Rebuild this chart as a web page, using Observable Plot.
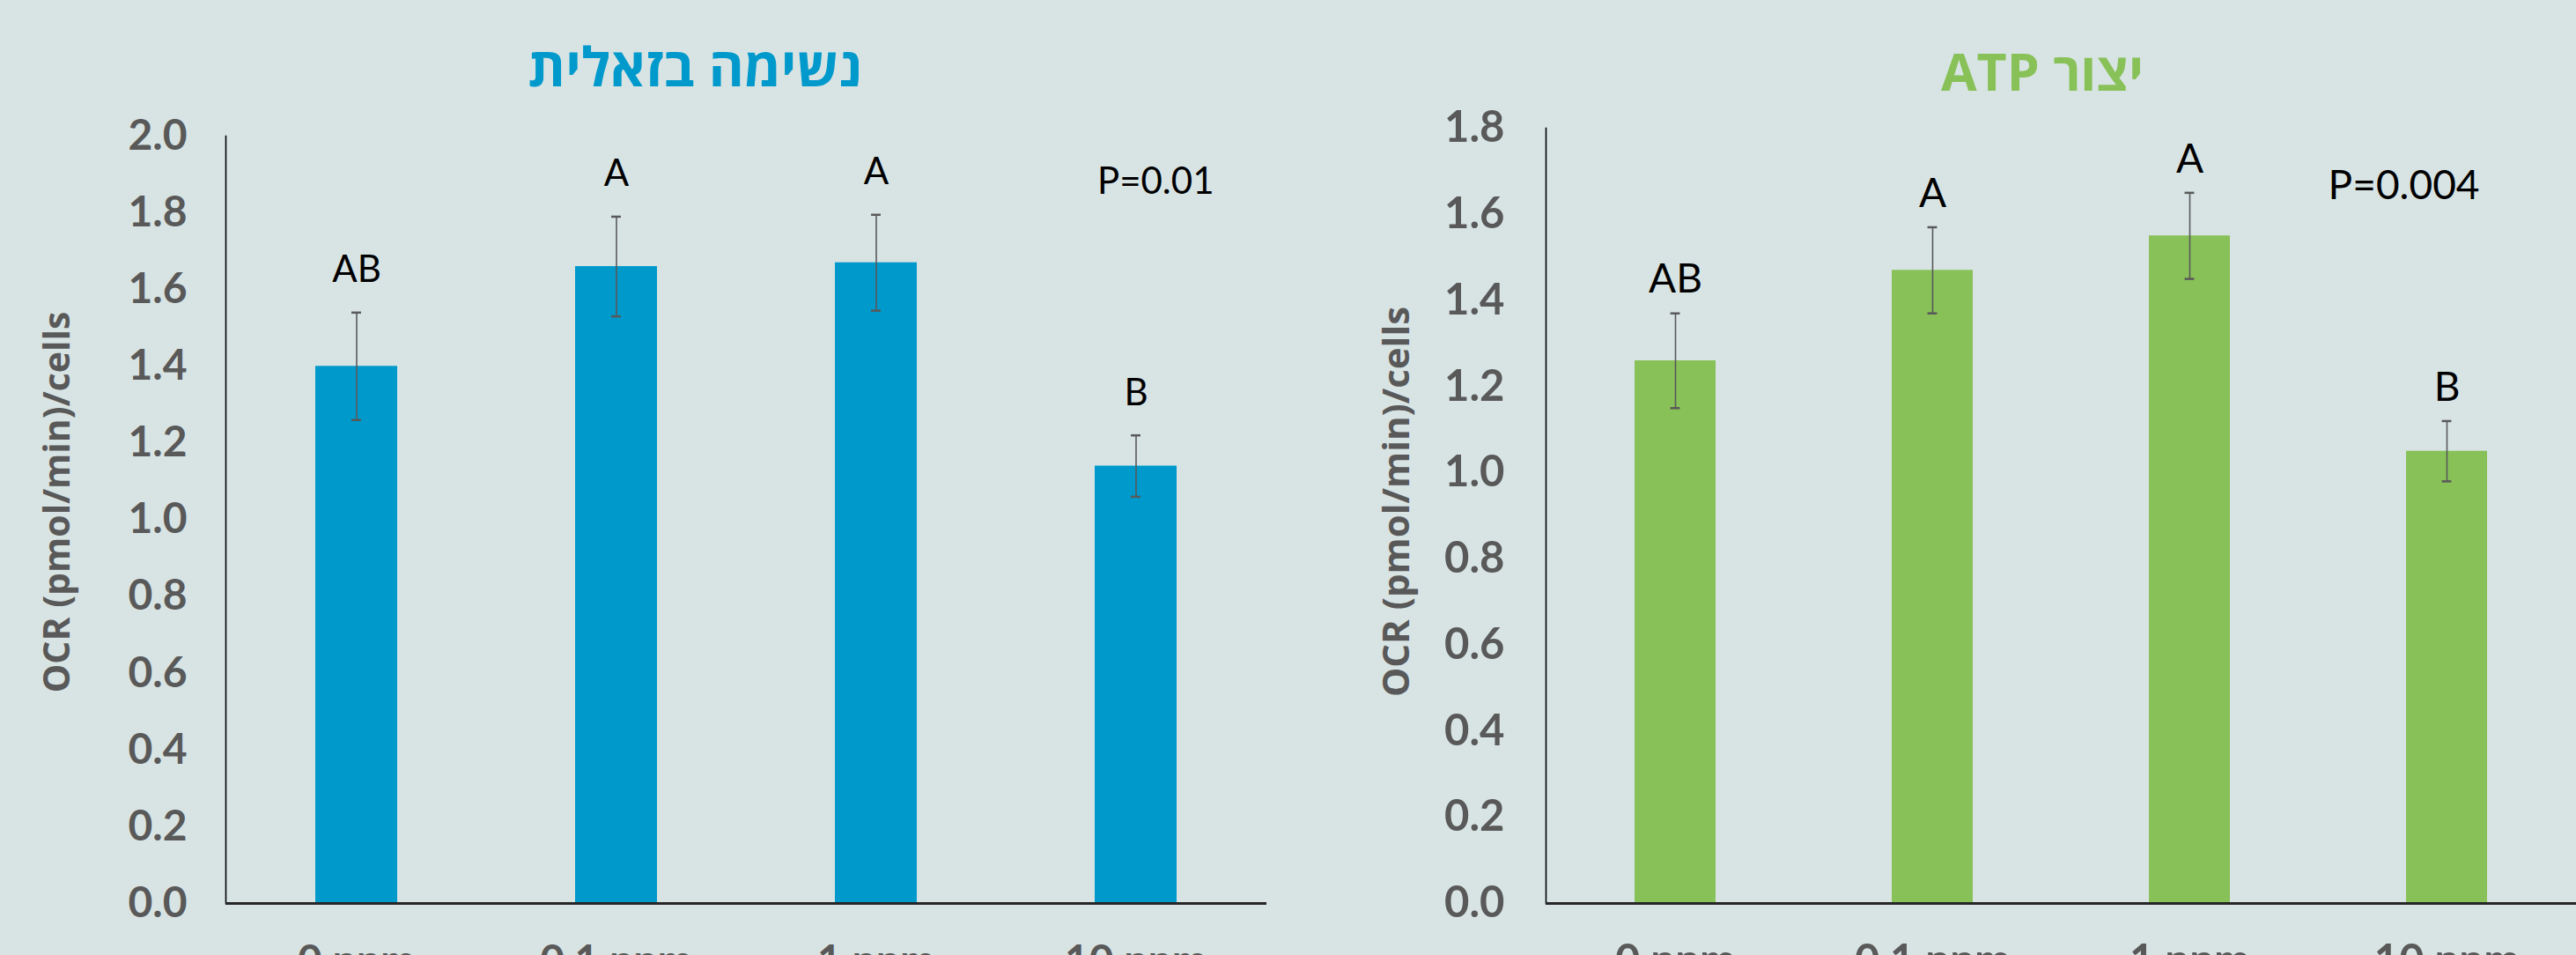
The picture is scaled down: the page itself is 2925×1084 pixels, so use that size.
<!DOCTYPE html>
<html>
<head>
<meta charset="utf-8">
<script src="https://cdn.jsdelivr.net/npm/d3@7"></script>
<script src="https://cdn.jsdelivr.net/npm/@observablehq/plot@0.6"></script>
<style>
  html, body { margin: 0; padding: 0; background: #D8E4E4; }
  #wrap { position: relative; width: 2925px; height: 1084px; overflow: hidden; background: #D8E4E4; }
  .chart { position: absolute; top: 0; }
  .title { position: absolute; transform: translate(-50%, -50%); white-space: nowrap;
           font-family: "Open Sans", "Liberation Sans", "DejaVu Sans", sans-serif; font-weight: bold; }
</style>
</head>
<body>
<div id="wrap"></div>
<script>
// ---- data ----
const categories = ["0 ppm", "0.1 ppm", "1 ppm", "10 ppm"];

const basalTitle = "נשימה בזאלית";
const basalValues = [1.40, 1.66, 1.67, 1.14];
const basalErrors = [0.14, 0.13, 0.125, 0.08];
const basalLetters = ["AB", "A", "A", "B"];
const basalP = "P=0.01";
const basalTicks = [0, 0.2, 0.4, 0.6, 0.8, 1.0, 1.2, 1.4, 1.6, 1.8, 2.0];

const atpTitle = "יצור ATP";
const atpValues = [1.26, 1.47, 1.55, 1.05];
const atpErrors = [0.11, 0.10, 0.10, 0.07];
const atpLetters = ["AB", "A", "A", "B"];
const atpP = "P=0.004";
const atpTicks = [0, 0.2, 0.4, 0.6, 0.8, 1.0, 1.2, 1.4, 1.6, 1.8];

const yLabel = "OCR (pmol/min)/cells";

const BLUE = "#0099CC";
const GREEN = "#88C158";
const GREY = "#595959";
const FONT = "Lato, 'Open Sans', 'Liberation Sans', sans-serif";

function rows(values, errors, letters) {
  return categories.map((c, i) => ({cat: c, value: values[i], err: errors[i], letter: letters[i]}));
}

function chart(cfg) {
  const data = rows(cfg.values, cfg.errors, cfg.letters);
  const frameW = cfg.width - cfg.marginLeft - cfg.marginRight;
  const bw = frameW / categories.length * 0.315;
  const capInset = (bw - 11) / 2;
  return Plot.plot({
    width: cfg.width,
    height: 1150,
    marginLeft: cfg.marginLeft,
    marginRight: cfg.marginRight,
    marginTop: cfg.marginTop,
    marginBottom: 125,
    style: {background: "transparent", color: GREY, fontFamily: FONT, overflow: "visible"},
    x: {domain: categories, paddingInner: 0.685, paddingOuter: 0.3425, label: null},
    y: {domain: cfg.domain, label: null},
    marks: [
      Plot.barY(data, {x: "cat", y: "value", fill: cfg.color}),
      Plot.ruleX(data, {x: "cat", y1: d => d.value - d.err, y2: d => d.value + d.err, stroke: GREY, strokeWidth: 1.6}),
      Plot.tickY(data, {x: "cat", y: d => d.value + d.err, stroke: GREY, strokeWidth: 2.5, insetLeft: capInset, insetRight: capInset}),
      Plot.tickY(data, {x: "cat", y: d => d.value - d.err, stroke: GREY, strokeWidth: 2.5, insetLeft: capInset, insetRight: capInset}),
      Plot.axisY({ticks: cfg.ticks, tickFormat: d3.format(".1f"), tickSize: 0, tickPadding: cfg.tickPad,
                  fontSize: cfg.tickFont, fontWeight: "bold", fill: GREY, label: null}),
      Plot.axisX({tickSize: 0, tickPadding: 47, fontSize: cfg.tickFont, fontWeight: "bold", fill: GREY, label: null}),
      Plot.frame({anchor: "left", stroke: "black", strokeWidth: 1.6}),
      Plot.ruleY([0], {stroke: "#262626", strokeWidth: 3}),
      Plot.text(data, {x: "cat", y: d => d.value + d.err, text: "letter", dy: cfg.letterDy,
                       fontSize: cfg.textFont, fill: "black", fontFamily: FONT}),
      Plot.text([cfg.p], {frameAnchor: "top-right", textAnchor: "end", dx: cfg.pDx, dy: cfg.pDy,
                          fontSize: cfg.textFont, fill: "black", fontFamily: FONT}),
      Plot.text([yLabel], {frameAnchor: "left", textAnchor: "middle", lineAnchor: "middle", rotate: -90,
                           dx: cfg.labelDx, dy: cfg.labelDy,
                           fontSize: cfg.labelFont, fontWeight: "bold", fill: GREY, letterSpacing: "2px",
                           fontFamily: "'Open Sans', Lato, sans-serif"})
    ]
  });
}

const wrap = document.getElementById("wrap");

const left = chart({
  values: basalValues, errors: basalErrors, letters: basalLetters, p: basalP, ticks: basalTicks,
  domain: [0, 2.0], color: BLUE, width: 1460, marginLeft: 256, marginRight: 22, marginTop: 154,
  tickPad: 44, tickFont: 48, textFont: 42, labelFont: 41,
  letterDy: -48, pDx: -60, pDy: 36, labelDx: -191, labelDy: -20
});
left.classList.add("chart");
left.style.left = "0px";
wrap.appendChild(left);

const right = chart({
  values: atpValues, errors: atpErrors, letters: atpLetters, p: atpP, ticks: atpTicks,
  domain: [0, 1.8], color: GREEN, width: 1465, marginLeft: 295, marginRight: 0, marginTop: 145,
  tickPad: 47, tickFont: 49, textFont: 46, labelFont: 42,
  letterDy: -38, pDx: -110, pDy: 48, labelDx: -169, labelDy: -16
});
right.classList.add("chart");
right.style.left = "1460px";
wrap.appendChild(right);

function addTitle(text, x, y, color, size) {
  const d = document.createElement("div");
  d.className = "title";
  d.dir = "rtl";
  d.textContent = text;
  d.style.left = x + "px";
  d.style.top = y + "px";
  d.style.color = color;
  d.style.fontSize = size + "px";
  wrap.appendChild(d);
}
addTitle(basalTitle, 789, 74, BLUE, 61);
addTitle(atpTitle, 2319, 80, GREEN, 59);
</script>
</body>
</html>
